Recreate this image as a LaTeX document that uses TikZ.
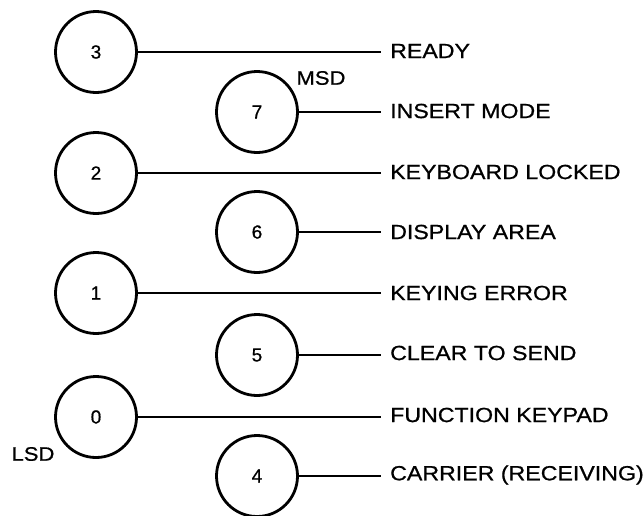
\documentclass[tikz,border=0pt]{standalone}
\usepackage{fontspec}
\usepackage{graphicx}
\setmainfont{Liberation Sans}
\newfontfamily\heavyfont{Liberation Sans}[FakeBold=0.7]
\newcommand{\wide}[1]{\scalebox{1.13}[1]{#1}}
\begin{document}
\begin{tikzpicture}[x=1pt,y=-1pt,
  bit/.style={circle,draw,line width=2.8pt,minimum size=81pt,inner sep=0pt,font=\heavyfont\fontsize{19}{22}\selectfont},
  lbl/.style={anchor=west,inner sep=0pt,font=\heavyfont\fontsize{20.5}{24}\selectfont},
  note/.style={inner sep=0pt,font=\heavyfont\fontsize{19.5}{22}\selectfont},
  wire/.style={line width=1.9pt}]
\useasboundingbox (0,0) rectangle (644,515);
% left column
\node[bit] (b3) at (96,52) {3};
\node[bit] (b2) at (96,173) {2};
\node[bit] (b1) at (96,293) {1};
\node[bit] (b0) at (96,417) {0};
% right column
\node[bit] (b7) at (257,112) {7};
\node[bit] (b6) at (257,232) {6};
\node[bit] (b5) at (257,355) {5};
\node[bit] (b4) at (257,476) {4};
% labels
\node[lbl] (l3) at (390,51) {\wide{READY}};
\node[lbl] (l7) at (390,111) {\wide{INSERT MODE}};
\node[lbl] (l2) at (390,172) {\wide{KEYBOARD LOCKED}};
\node[lbl] (l6) at (390,232) {\wide{DISPLAY AREA}};
\node[lbl] (l1) at (390,293) {\wide{KEYING ERROR}};
\node[lbl] (l5) at (390,353) {\wide{CLEAR TO SEND}};
\node[lbl] (l0) at (390,415) {\wide{FUNCTION KEYPAD}};
\node[lbl] (l4) at (390,475) {\wide{CARRIER (RECEIVING)}};
% wires
\foreach \n in {3,2,1,0,7,6,5,4}{
  \draw[wire] (b\n.east) -- ([xshift=-9pt]l\n.west |- b\n.east);
}
% MSD / LSD
\node[note] (msd) at (321,78) {\wide{MSD}};
\node[note] (lsd) at (33,454) {\wide{LSD}};
\end{tikzpicture}
\end{document}
